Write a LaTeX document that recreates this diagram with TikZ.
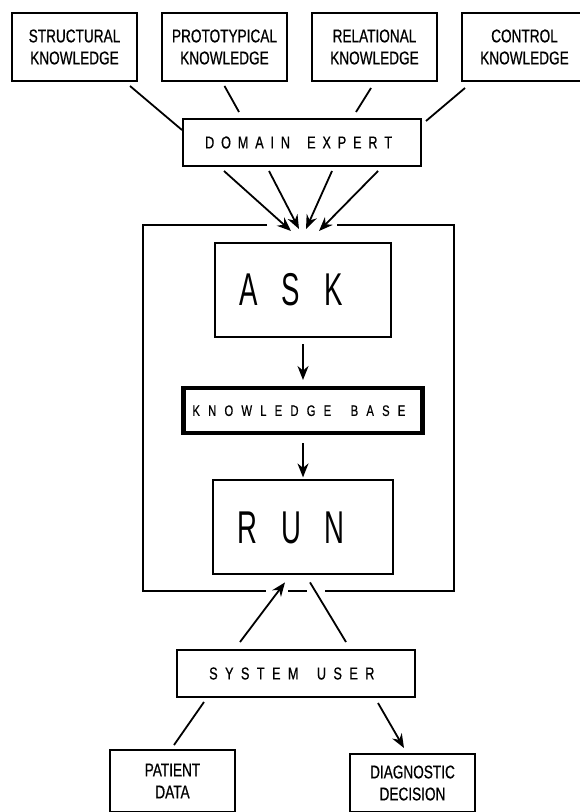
\documentclass[tikz,border=0pt]{standalone}
\usepackage{fontspec}
\usepackage{tikz}
\usetikzlibrary{arrows.meta,positioning}
\newfontfamily\labelfont{Liberation Sans}[FakeStretch=0.74, FakeBold=0.6]
\newfontfamily\bigfont{Liberation Sans}[FakeStretch=0.6]
\makeatletter
\newcommand\spread[2]{\def\spread@gap{#1}\@tfor\spread@c:=#2\do{\spread@c\hspace{\spread@gap}}\hspace{-\spread@gap}}
\makeatother

\begin{document}
\begin{tikzpicture}[
    x=0.5pt, y=-0.5pt,
    node distance=11.5pt,
    know/.style={draw, line width=1pt, align=center, minimum width=62.5pt,
      minimum height=34pt, inner sep=0pt, font=\labelfont\fontsize{9.2}{11}\selectfont},
    role/.style={draw, line width=1pt, minimum width=119pt, minimum height=23.5pt,
      inner sep=0pt, font=\labelfont\fontsize{8.6}{10}\selectfont},
    stage/.style={draw, line width=1pt, minimum width=89pt, minimum height=47pt,
      inner sep=0pt, font=\bigfont\fontsize{23}{25}\selectfont},
    frame/.style={line width=0.8pt},
    link/.style={line width=0.9pt},
    arrow/.style={link, -{Stealth[length=7pt, width=5.5pt]}}
  ]
    \useasboundingbox (0,0) rectangle (579,812);
    % knowledge sources
    \node[know] (struct) at (74.5,47) {STRUCTURAL\\KNOWLEDGE};
    \node[know, right=of struct] (proto) {PROTOTYPICAL\\KNOWLEDGE};
    \node[know, right=of proto] (rel) {RELATIONAL\\KNOWLEDGE};
    \node[know, right=of rel] (ctrl) {CONTROL\\KNOWLEDGE};
    \node[role] (expert) at (302,142.5) {\spread{3.4pt}{DOMAIN~EXPERT}};
    \draw[link] ([xshift=-4pt,yshift=-2pt]struct.south east) -- ([yshift=-6pt]expert.north west);
    \draw[link] ([yshift=-2pt]proto.south) -- ([xshift=-31.5pt,yshift=3pt]expert.north);
    \draw[link] ([xshift=-1.75pt,yshift=-3pt]rel.south) -- ([xshift=27pt,yshift=3pt]expert.north);
    \draw[link] ([xshift=2pt,yshift=-3pt]ctrl.south west) -- ([xshift=2pt,yshift=-1.5pt]expert.north east);

    % system
    \node[stage, minimum width=88pt] (ask) at (303,290) {\spread{12pt}{ASK}};
    \node[draw, line width=2.2pt, minimum width=119.5pt, minimum height=22.5pt, inner sep=0pt,
      font=\labelfont\fontsize{7.6}{9}\selectfont, below=24pt of ask] (kb) {\spread{4.1pt}{KNOWLEDGE~BASE}};
    \node[stage, minimum width=90pt, below=22pt of kb] (run) {\spread{12pt}{RUN}};
    \draw[arrow, shorten <=3pt, shorten >=3pt] (ask) -- (kb);
    \draw[arrow, shorten <=4pt, shorten >=1pt] (kb) -- (run);
    \draw[frame] (267,225) -- (143,225) -- (143,591) -- (266,591)
      (288,591) -- (307,591)
      (325,591) -- (454,591) -- (454,225) -- (337,225);
    \coordinate (entry1) at (291,231);
    \coordinate (entry2) at (299,229);
    \coordinate (entry3) at (306,229);
    \coordinate (entry4) at (319,231);
    \draw[arrow] ([xshift=-39pt,yshift=-2pt]expert.south) -- (entry1);
    \draw[arrow] ([xshift=-16.5pt,yshift=-2pt]expert.south) -- (entry2);
    \draw[arrow] ([xshift=15pt,yshift=-2pt]expert.south) -- (entry3);
    \draw[arrow] ([xshift=38pt,yshift=-2pt]expert.south) -- (entry4);

    % user side
    \node[role] (user) at (295.5,673.5) {\spread{3.7pt}{SYSTEM~USER}};
    \node[know, minimum height=31pt] (patient) at (172.5,781) {PATIENT\\DATA};
    \node[know, minimum height=29pt] (diag) at (412.5,783) {DIAGNOSTIC\\DECISION};
    \draw[arrow] ([xshift=-27.75pt,yshift=3.5pt]user.north) -- ([xshift=-9pt,yshift=-3.5pt]run.south);
    \draw[link] ([xshift=3.5pt,yshift=-3.5pt]run.south) -- ([xshift=25.25pt,yshift=3.5pt]user.north);
    \draw[link] ([xshift=-45.75pt,yshift=-2pt]user.south) -- ([xshift=0.75pt,yshift=2pt]patient.north);
    \draw[arrow] ([xshift=41.25pt,yshift=-2.5pt]user.south) -- ([xshift=-4.25pt,yshift=2.5pt]diag.north);
  \end{tikzpicture}
\end{document}
